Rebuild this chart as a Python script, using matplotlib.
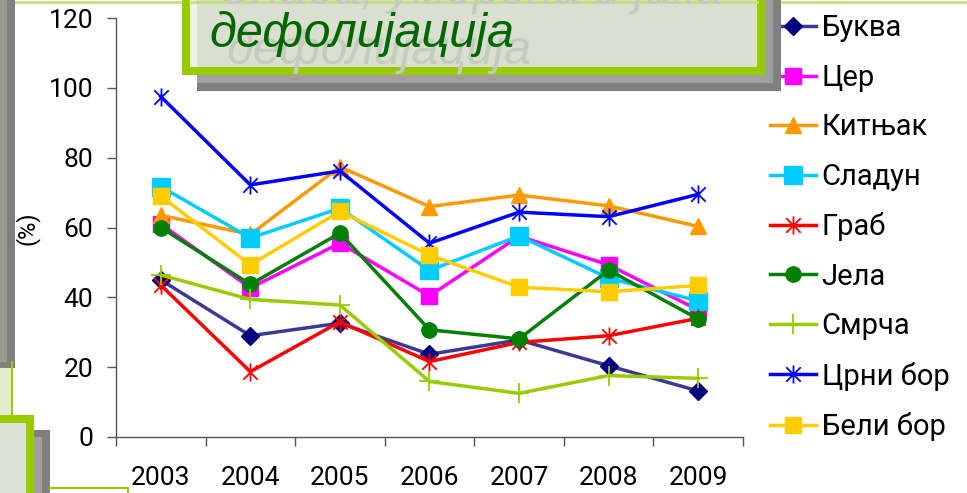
import matplotlib
matplotlib.use("Agg")
import matplotlib.pyplot as plt
from matplotlib.patches import Rectangle
from matplotlib.lines import Line2D
from matplotlib.path import Path

years = ["2003", "2004", "2005", "2006", "2007", "2008", "2009"]
species = ["Буква", "Цер", "Китњак", "Сладун", "Граб", "Јела", "Смрча", "Црни бор", "Бели бор"]

bukva = [45, 29, 32.6, 23.7, 27.8, 20.4, 13.2]
cer = [61, 42.7, 55.5, 40.4, 57.5, 49.3, 36.4]
kitnjak = [63.5, 58, 77.4, 66, 69.3, 66.2, 60.3]
sladun = [71.7, 57, 65.5, 47.7, 57.6, 45.5, 39]
grab = [43.5, 18.7, 33, 21.6, 27.1, 29, 34]
jela = [60, 43.7, 58.4, 30.7, 28.1, 47.8, 33.8]
smrca = [46.4, 39.4, 37.8, 15.9, 12.5, 17.6, 16.8]
crni_bor = [97.5, 72.2, 76.2, 55.5, 64.4, 63.1, 69.5]
beli_bor = [69, 49.3, 64.6, 52.1, 42.9, 41.6, 43.4]

values = [bukva, cer, kitnjak, sladun, grab, jela, smrca, crni_bor, beli_bor]

# excel style asterisk: vertical bar + X
ast = Path([(0, -1), (0, 1), (-0.8, -0.8), (0.8, 0.8), (-0.8, 0.8), (0.8, -0.8)],
           [Path.MOVETO, Path.LINETO, Path.MOVETO, Path.LINETO, Path.MOVETO, Path.LINETO])

styles = [
    dict(color="#3a3a96", marker="D", ms=9, mfc="#000080", mec="#000080"),
    dict(color="#ff00ff", marker="s", ms=11, mfc="#ff00ff", mec="#ff00ff"),
    dict(color="#ff9900", marker="^", ms=12, mfc="#ff9900", mec="#ff9900"),
    dict(color="#00ccff", marker="s", ms=13, mfc="#00ccff", mec="#00ccff"),
    dict(color="#ff0000", marker=ast, ms=13, mfc="none", mec="#ff0000", mew=1.3),
    dict(color="#008000", marker="o", ms=11, mfc="#008000", mec="#008000"),
    dict(color="#99cc00", marker="+", ms=15, mfc="none", mec="#99cc00", mew=1.3),
    dict(color="#0000ff", marker=ast, ms=13, mfc="none", mec="#0000ff", mew=1.3),
    dict(color="#ffcc00", marker="s", ms=11, mfc="#ffcc00", mec="#ffcc00"),
]

plt.rcParams['font.family'] = ['Roboto', 'DejaVu Sans']

W, H = 967, 493
fig = plt.figure(figsize=(W / 100, H / 100), dpi=100)


def px(x, y):
    return x / W, 1 - y / H


def box(x0, y0, x1, y1, color, z=10):
    fig.patches.append(Rectangle(px(x0, y1), (x1 - x0) / W, (y1 - y0) / H,
                                 transform=fig.transFigure, facecolor=color,
                                 edgecolor="none", zorder=z))


def line(xs, ys, color, lw=1.5, z=11):
    fig.lines.append(Line2D([x / W for x in xs], [1 - y / H for y in ys],
                            transform=fig.transFigure, color=color, lw=lw, zorder=z))


ax = fig.add_axes([116 / W, (H - 437) / H, 627 / W, 419 / H])
x = list(range(len(years)))
for name, v, st in zip(species, values, styles):
    ax.plot(x, v, lw=2.5, label=name, clip_on=False, **st)

ax.set_xlim(-0.5, 6.5)
ax.set_ylim(0, 120)
ax.set_yticks(range(0, 121, 20))
ax.set_xticks(x)
ax.set_xticklabels(years)
ax.set_xticks([i - 0.5 for i in range(len(years) + 1)], minor=True)
ax.tick_params(axis="x", which="major", length=0, pad=21, labelsize=19)
ax.tick_params(axis="x", which="minor", length=6.5, width=1, color="#555555")
ax.tick_params(axis="y", length=6.5, width=1, color="#555555", pad=10, labelsize=19)
for s in ["top", "right"]:
    ax.spines[s].set_visible(False)
for s in ["left", "bottom"]:
    ax.spines[s].set_color("#555555")
    ax.spines[s].set_linewidth(1)

fig.text(27 / W, 1 - 228 / H, "(%)", rotation=90, ha="center", va="center", fontsize=17)

fig.legend(loc="upper left", bbox_to_anchor=px(770, 14.5), frameon=False, fontsize=21,
           handlelength=1.57, handletextpad=0.2, labelspacing=0.735,
           borderpad=0, borderaxespad=0)

# slide decorations
line([15, W], [1.5, 1.5], "#c4e07c", lw=2, z=9)
box(0, -5, 15, 368, "#808080")
box(0, -5, 7, 362, "#9a9b90")
box(0, 368, 11, 415, "#e2edcc")
line([11.5, 11.5], [362, 415], "#99cc00")
box(0, 430, 50, H + 5, "#808080")
box(0, 437, 42, H + 5, "#a0a0a0")
box(0, 415, 34, H + 5, "#99cc00")
box(0, 423, 26, H + 5, "#dde3d4")
line([50, 128, 128], [488, 488, H + 5], "#99cc00")

box(197, -10, 781, 91, "#808080")
box(197, -10, 773, 83, "#a0a0a0")
box(182, -10, 765, 75, "#99cc00")
box(190, -10, 757, 67, "#dadfd1")
box(190, -10, 197, 67, "#eef4e4")
line([190, 757], [1.5, 1.5], "#c4e07c", lw=2, z=10.5)

tfont = ['Liberation Sans', 'DejaVu Sans']
fig.text(722 / W, 1 - 4 / H, "Слаба, умерена и јака", fontsize=35, style="italic",
         family=tfont, color="#c6cbbd", ha="right", va="baseline", zorder=12)
fig.text(226 / W, 1 - 64 / H, "дефолијација", fontsize=35, style="italic",
         family=tfont, color="#c6cbbd", va="baseline", zorder=12)
fig.text(209 / W, 1 - 47 / H, "дефолијација", fontsize=35, style="italic",
         family=tfont, color="#006600", va="baseline", zorder=13)

fig.savefig("out.png", dpi=100)
